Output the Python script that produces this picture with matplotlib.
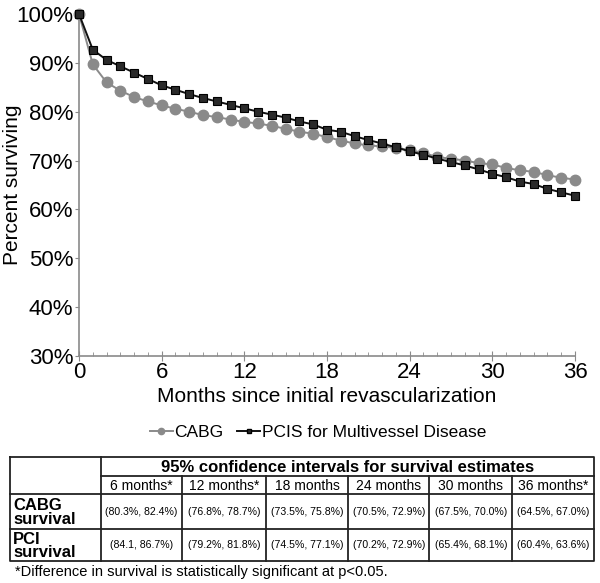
import matplotlib
matplotlib.use("Agg")
import matplotlib.pyplot as plt
from matplotlib.ticker import FuncFormatter, MultipleLocator
from matplotlib.lines import Line2D

plt.rcParams['font.family'] = ['Liberation Sans', 'DejaVu Sans']

months = list(range(0, 37))
cabg = [100, 89.7, 86.0, 84.3, 83.0, 82.1, 81.3, 80.6, 80.0, 79.3, 78.9, 78.4, 77.9,
        77.6, 77.1, 76.5, 75.9, 75.5, 74.8, 74.1, 73.5, 73.1, 72.9, 72.6, 72.1,
        71.6, 70.7, 70.4, 70.0, 69.5, 69.2, 68.5, 68.0, 67.7, 67.0, 66.5, 66.1]
pci = [100, 92.7, 90.6, 89.3, 88.0, 86.7, 85.4, 84.5, 83.6, 82.8, 82.1, 81.4, 80.7,
       80.0, 79.4, 78.8, 78.0, 77.4, 76.3, 75.9, 75.0, 74.2, 73.5, 72.7, 71.9,
       71.2, 70.4, 69.7, 69.0, 68.2, 67.3, 66.6, 65.7, 65.2, 64.2, 63.5, 62.8]

series_labels = ["CABG", "PCIS for Multivessel Disease"]
x_label = "Months since initial revascularization"
y_label = "Percent surviving"

table_title = "95% confidence intervals for survival estimates"
col_labels = ["6 months*", "12 months*", "18 months", "24 months", "30 months", "36 months*"]
row_labels = ["CABG\nsurvival", "PCI\nsurvival"]
cabg_ci = ["(80.3%, 82.4%)", "(76.8%, 78.7%)", "(73.5%, 75.8%)", "(70.5%, 72.9%)",
           "(67.5%, 70.0%)", "(64.5%, 67.0%)"]
pci_ci = ["(84.1, 86.7%)", "(79.2%, 81.8%)", "(74.5%, 77.1%)", "(70.2%, 72.9%)",
          "(65.4%, 68.1%)", "(60.4%, 63.6%)"]
footnote = "*Difference in survival is statistically significant at p<0.05."

W, H = 600, 583
fig = plt.figure(figsize=(W / 100, H / 100), dpi=100)

# ---- main chart ----
L, R, T, B = 79, 575, 14, 356
ax = fig.add_axes([L / W, 1 - B / H, (R - L) / W, (B - T) / H])
gray = "#8a8a8a"
ax.plot(months, cabg, color=gray, lw=1.4, marker="o", ms=7.5, mfc=gray, mec=gray,
        clip_on=False, zorder=3, label=series_labels[0])
ax.plot(months, pci, color="#111111", lw=1.4, marker="s", ms=6, mfc="#2a2a2a",
        mec="#000000", mew=0.8, clip_on=False, zorder=4, label=series_labels[1])
ax.set_xlim(0, 36)
ax.set_ylim(30, 100)
ax.xaxis.set_major_locator(MultipleLocator(6))
ax.xaxis.set_minor_locator(MultipleLocator(1))
ax.yaxis.set_major_locator(MultipleLocator(10))
ax.yaxis.set_major_formatter(FuncFormatter(lambda v, p: f"{v:.0f}%"))
for s in ["top", "right"]:
    ax.spines[s].set_visible(False)
for s in ["left", "bottom"]:
    ax.spines[s].set_color(gray)
    ax.spines[s].set_linewidth(1.2)
ax.tick_params(axis="x", which="major", direction="inout", length=7, color=gray,
               labelsize=16, pad=1)
ax.tick_params(axis="x", which="minor", direction="in", length=3, color=gray)
ax.tick_params(axis="y", which="major", direction="out", length=3, color=gray,
               labelsize=16, pad=1)
ax.set_xlabel(x_label, fontsize=15, labelpad=3)
ax.set_ylabel(y_label, fontsize=15)
ax.yaxis.set_label_coords((22 - L) / (R - L), 0.5)

handles = [Line2D([], [], color=gray, lw=1.4, marker="o", ms=4.5, mfc=gray, mec=gray),
           Line2D([], [], color="#111111", lw=1.4, marker="s", ms=3.5, mfc="#2a2a2a", mec="#000")]
fig.legend(handles, series_labels, loc="center", bbox_to_anchor=(318 / W, 1 - 432 / H),
           ncol=2, frameon=False, fontsize=12.5, handlelength=1.3, handletextpad=0.1,
           columnspacing=0.8)

# ---- table ----
tax = fig.add_axes([0, 0, 1, 1])
tax.set_xlim(0, W)
tax.set_ylim(H, 0)
tax.axis("off")
col_x = [10.3, 100.7, 182.3, 265.7, 348.3, 429.3, 512.3, 594.3]
row_y = [457.3, 475.7, 494.3, 529.0, 561.0]
lc = "#222222"
lw = 1.3
tax.plot([col_x[0], col_x[-1], col_x[-1], col_x[0], col_x[0]],
         [row_y[0], row_y[0], row_y[-1], row_y[-1], row_y[0]], color=lc, lw=lw)
tax.plot([col_x[1], col_x[1]], [row_y[0], row_y[-1]], color=lc, lw=lw)
for cx in col_x[2:-1]:
    tax.plot([cx, cx], [row_y[1], row_y[-1]], color=lc, lw=lw)
tax.plot([col_x[1], col_x[-1]], [row_y[1], row_y[1]], color=lc, lw=lw)
for ry in row_y[2:-1]:
    tax.plot([col_x[0], col_x[-1]], [ry, ry], color=lc, lw=lw)

tax.text((col_x[1] + col_x[-1]) / 2, (row_y[0] + row_y[1]) / 2 + 0.5, table_title,
         ha="center", va="center", fontsize=12, fontweight="bold")
for i, lab in enumerate(col_labels):
    tax.text((col_x[i + 1] + col_x[i + 2]) / 2, (row_y[1] + row_y[2]) / 2 + 0.5, lab,
             ha="center", va="center", fontsize=10)
for r, (lab, vals) in enumerate(zip(row_labels, [cabg_ci, pci_ci])):
    yc = (row_y[r + 2] + row_y[r + 3]) / 2
    tax.text(col_x[0] + 3, yc + 1, lab, ha="left", va="center", fontsize=12,
             fontweight="bold", linespacing=0.9)
    for i, v in enumerate(vals):
        tax.text((col_x[i + 1] + col_x[i + 2]) / 2, yc, v, ha="center", va="center",
                 fontsize=7.6)
tax.text(15, 572, footnote, ha="left", va="center", fontsize=10.5)

fig.savefig("out.png", dpi=100)
